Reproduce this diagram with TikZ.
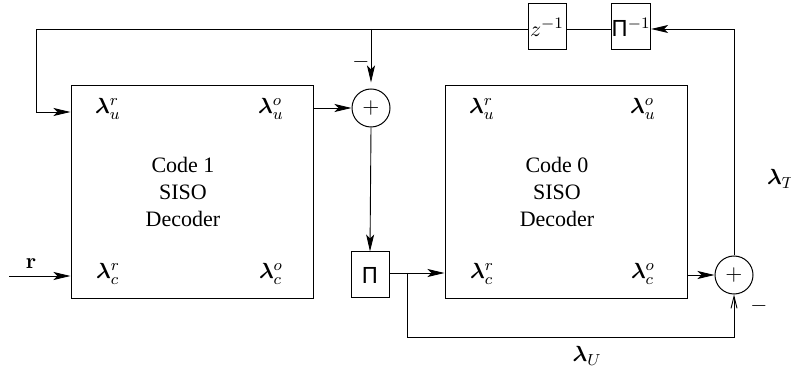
\documentclass[tikz,border=0pt]{standalone}
\usepackage{amsmath,amssymb}
\usepackage{bm}
\usepackage[no-math]{fontspec}
\setmainfont{Liberation Serif}
\newfontfamily\pisans{DejaVu Sans}
\usetikzlibrary{arrows.meta,positioning,calc}

\begin{document}
\begin{tikzpicture}[x=0.5pt, y=-0.5pt,
    every node/.style={font=\rmfamily\fontsize{11}{13.5}\selectfont},
    decoder/.style={rectangle, draw, line width=0.5pt, minimum width=121pt,
                    minimum height=106.5pt, inner sep=0pt},
    blk/.style={rectangle, draw, line width=0.5pt, minimum width=19pt,
                minimum height=23pt, inner sep=0pt},
    adder/.style={circle, draw, line width=0.5pt, minimum size=19pt, inner sep=0pt},
    lam/.style={inner sep=0pt},
    arr/.style={-{Stealth[length=8.5pt, width=4pt, inset=2pt]}, line width=0.45pt},
    barb/.style={-{Straight Barb[length=6pt, width=3pt]}, line width=0.45pt},
    ln/.style={line width=0.45pt}
]
\useasboundingbox (0,0) rectangle (791,373);

% decoders
\node[decoder] (dec1) at (192,192) {};
\node[align=center] (txt1) at (183,192) {Code 1\\SISO\\Decoder};
\node[decoder] (dec0) at (566,192) {};
\node[align=center] (txt0) at (557,192) {Code 0\\SISO\\Decoder};

\node[lam] (ur1) at (108,109) {$\bm{\lambda}_u^r$};
\node[lam] (uo1) at (271,109) {$\bm{\lambda}_u^o$};
\node[lam] (cr1) at (108,274) {$\bm{\lambda}_c^r$};
\node[lam] (co1) at (271,274) {$\bm{\lambda}_c^o$};
\node[lam] (ur0) at (482,109) {$\bm{\lambda}_u^r$};
\node[lam] (uo0) at (643,109) {$\bm{\lambda}_u^o$};
\node[lam] (cr0) at (482,274) {$\bm{\lambda}_c^r$};
\node[lam] (co0) at (643,274) {$\bm{\lambda}_c^o$};

% adders and blocks
\node[adder] (add1) at (371,108) {$+$};
\node[adder] (add2) at (734,275) {$+$};
\node[blk] (pi) at (370,275) {{\pisans Π}};
\node[blk] (zinv) at (547,27) {$z^{-1}$};
\node[blk] (piinv) at (631,27) {{\pisans Π}$^{-1}$};

\coordinate (tl) at (36,29);
\coordinate (jt) at (371,29);
\coordinate (tr) at (734,29);
\coordinate (jb) at (407,273);
\coordinate (bl) at (407,337);
\coordinate (br) at (734,337);
\coordinate (rin) at (9,276);

% connectors
\draw[arr] (add2.north) -- (tr) -- (piinv.east |- tr);
\draw[ln] (piinv.west |- tr) -- (zinv.east |- tr);
\draw[arr] (zinv.west |- tr) -- (tl) -- (tl |- 0,112) -- (dec1.west |- 0,112);
\draw[arr] (jt) -- ([yshift=3pt]add1.north);
\draw[arr] (dec1.east |- add1) -- (add1.west);
\draw[arr] (add1.south) -- (pi.north);
\draw[arr] (pi.east |- jb) -- (dec0.west |- jb);
\draw[barb] (jb) -- (bl) -- (br) -- (add2.south);
\draw[arr] (dec0.east |- add2) -- (add2.west);
\draw[arr] (rin) -- (dec1.west |- rin);

% labels
\node (r) at (31,264) {$\mathbf{r}$};
\node (m1) at (361,62) {$-$};
\node (m2) at (759,306) {$-$};
\node (lu) at (587,356) {$\bm{\lambda}_U$};
\node (lt) at (781,179) {$\bm{\lambda}_T$};
\end{tikzpicture}
\end{document}
